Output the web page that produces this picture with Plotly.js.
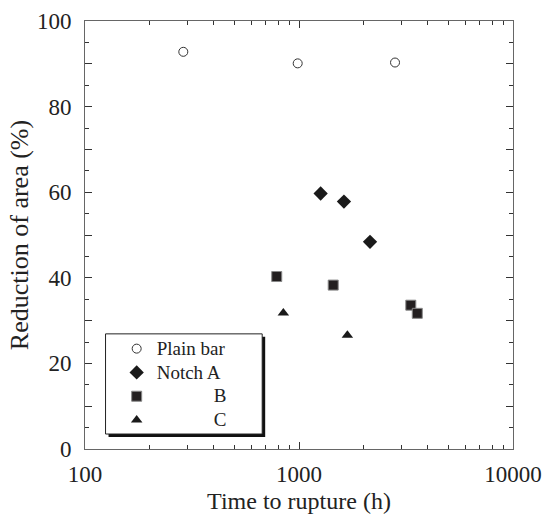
<!DOCTYPE html>
<html>
<head>
<meta charset="utf-8">
<script src="https://cdn.plot.ly/plotly-3.0.1.min.js"></script>
<style>
html,body{margin:0;padding:0;background:#fff;}
#chart{width:545px;height:514px;}
</style>
</head>
<body>
<div id="chart"></div>
<script>
// Series names (legend labels)
const seriesNames = ["Plain bar", "Notch A", "B", "C"];

// Plain bar
const plainTime = [288, 986, 2810];
const plainRA   = [92.8, 90.1, 90.3];

// Notch A
const notchATime = [1262, 1622, 2147];
const notchARA   = [59.7, 57.8, 48.4];

// Notch B
const notchBTime = [787, 1445, 3330, 3570];
const notchBRA   = [40.3, 38.3, 33.6, 31.7];

// Notch C
const notchCTime = [845, 1683];
const notchCRA   = [31.8, 26.6];

// Tick labels
const xTickVals = [100, 1000, 10000];
const xTickText = ["100", "1000", "10000"];
const yTickVals = [0, 10, 20, 30, 40, 50, 60, 70, 80, 90, 100];
const yTickText = ["0", "", "20", "", "40", "", "60", "", "80", "", "100"];

const serif = "Liberation Serif";
const pad = n => "\u00a0".repeat(n);
const big = s => '<span style="font-size:19px">' + s + '</span>';

const traces = [
  {x: plainTime, y: plainRA, name: big(seriesNames[0]), mode: "markers", type: "scatter",
   marker: {symbol: "circle-open", size: 9, color: "#333", line: {width: 1, color: "#333"}}},
  {x: notchATime, y: notchARA, name: big(seriesNames[1]), mode: "markers", type: "scatter",
   marker: {symbol: "diamond", size: 11, color: "#1a1a1a"}},
  {x: notchBTime, y: notchBRA, name: big(pad(12) + seriesNames[2]), mode: "markers", type: "scatter",
   marker: {symbol: "square", size: 10, color: "#231f20", line: {width: 1, color: "#888"}}},
  {x: notchCTime, y: notchCRA, name: big(pad(12) + seriesNames[3]), mode: "markers", type: "scatter",
   marker: {symbol: "triangle-up", size: 10, color: "#1a1a1a"}}
];

const layout = {
  width: 545, height: 514,
  margin: {l: 85, r: 32, t: 21, b: 65},
  paper_bgcolor: "#fff", plot_bgcolor: "#fff",
  font: {family: serif, size: 20, color: "#222"},
  showlegend: true,
  legend: {
    x: 0.074, y: 0.274, xanchor: "left", yanchor: "top",
    bgcolor: "rgba(0,0,0,0)", borderwidth: 0,
    font: {family: serif, size: 16, color: "#222"},
    itemsizing: "trace"
  },
  xaxis: {
    type: "log", range: [2, 4],
    tickmode: "array", tickvals: xTickVals, ticktext: xTickText,
    ticks: "inside", ticklen: 7, tickcolor: "#333", tickwidth: 1,
    ticklabelstandoff: 4,
    minor: {dtick: "D1", ticks: "inside", ticklen: 4, tickcolor: "#333", showgrid: false},
    showline: true, linecolor: "#666", linewidth: 1, mirror: "ticks",
    showgrid: false, zeroline: false,
    tickfont: {family: serif, size: 23, color: "#222"},
    title: {text: "Time to rupture (h)", font: {family: serif, size: 24, color: "#222"}, standoff: 6}
  },
  yaxis: {
    range: [0, 100],
    tickmode: "array", tickvals: yTickVals, ticktext: yTickText,
    ticks: "inside", ticklen: 7, tickcolor: "#333", tickwidth: 1,
    ticklabelstandoff: 8,
    minor: {dtick: 5, ticks: "inside", ticklen: 4, tickcolor: "#333", showgrid: false},
    showline: true, linecolor: "#666", linewidth: 1, mirror: "ticks",
    showgrid: false, zeroline: false,
    tickfont: {family: serif, size: 23, color: "#222"},
    title: {text: "Reduction of area (%)", font: {family: serif, size: 26, color: "#222"}, standoff: 0}
  },
  shapes: [
    {type: "rect", xref: "paper", yref: "paper", x0: 0.055, x1: 0.421, y0: 0.028, y1: 0.262,
     fillcolor: "#111", line: {width: 0}, layer: "below"},
    {type: "rect", xref: "paper", yref: "paper", x0: 0.048, x1: 0.414, y0: 0.035, y1: 0.269,
     fillcolor: "#fff", line: {width: 1, color: "#222"}, layer: "below"}
  ]
};

Plotly.newPlot("chart", traces, layout, {displayModeBar: false, staticPlot: true});
</script>
</body>
</html>
